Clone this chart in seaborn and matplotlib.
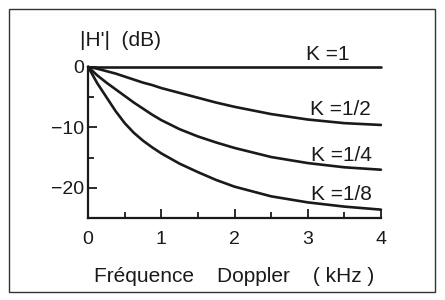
import numpy as np
import pandas as pd
import matplotlib
matplotlib.use("Agg")
import matplotlib.pyplot as plt
from matplotlib.patches import Rectangle
from matplotlib.ticker import MultipleLocator
import seaborn as sns

# values (frequency in kHz, |H'| in dB)
freq = [0, 0.125, 0.25, 0.375, 0.5, 0.625, 0.75, 0.875, 1,
        1.25, 1.5, 1.75, 2, 2.5, 3, 3.5, 4]
k_1 = [0] * len(freq)
k_1_2 = [0, -0.3, -0.7, -1.1, -1.6, -2.1, -2.6, -3.0, -3.5,
         -4.3, -5.1, -5.9, -6.6, -7.8, -8.7, -9.3, -9.6]
k_1_4 = [0, -1.4, -2.6, -3.7, -4.8, -5.9, -6.9, -7.9, -8.8,
         -10.3, -11.5, -12.5, -13.4, -14.9, -15.9, -16.6, -17.0]
k_1_8 = [0, -2.7, -5.0, -7.3, -9.3, -10.9, -12.2, -13.3, -14.3,
         -16.0, -17.4, -18.7, -19.8, -21.4, -22.4, -23.1, -23.6]

labels = ["K =1", "K =1/2", "K =1/4", "K =1/8"]
label_x = [2.97, 3.03, 3.05, 3.05]
label_y = [2.1, -7.0, -14.6, -21.1]

df = pd.concat([
    pd.DataFrame({"f": freq, "dB": v, "K": lab})
    for v, lab in zip([k_1, k_1_2, k_1_4, k_1_8], labels)
])

sns.set_theme(style="ticks")
plt.rcParams["font.family"] = ["Liberation Sans", "DejaVu Sans"]

ink = "#1a1a1a"
fig = plt.figure(figsize=(4.45, 3.0), dpi=100)
ax = fig.add_axes([0.198, 0.273, 0.658, 0.504])

sns.lineplot(data=df, x="f", y="dB", hue="K", palette=[ink] * 4,
             linewidth=1.9, legend=False, ax=ax, clip_on=False)

ax.set_xlim(0, 4)
ax.set_ylim(-25, 0)
ax.xaxis.set_major_locator(MultipleLocator(1))
ax.xaxis.set_minor_locator(MultipleLocator(0.5))
ax.yaxis.set_major_locator(MultipleLocator(10))
ax.yaxis.set_minor_locator(MultipleLocator(5))
ax.tick_params(which="both", direction="in", width=1.3, color=ink,
               labelsize=14, labelcolor=ink)
ax.tick_params(which="major", length=6.5)
ax.tick_params(which="minor", length=4.5)
ax.tick_params(axis="x", pad=9)
ax.tick_params(axis="y", pad=3)
for s in ["left", "bottom"]:
    ax.spines[s].set_linewidth(1.6)
    ax.spines[s].set_color(ink)
sns.despine(ax=ax)

ax.set_xlabel("Fréquence    Doppler    ( kHz )", fontsize=15, labelpad=14,
              color=ink)
ax.set_ylabel("")
ax.text(-0.11, 4.4, "|H'|  (dB)", fontsize=15, ha="left", va="center",
        color=ink, clip_on=False)

for lab, x, y in zip(labels, label_x, label_y):
    ax.text(x, y, lab, fontsize=15, ha="left", va="center",
            color=ink, clip_on=False)

fig.patches.append(Rectangle((9 / 445, 8 / 300), 426 / 445, 283 / 300,
                             transform=fig.transFigure, fill=False,
                             edgecolor="#333333", linewidth=1.0))

fig.savefig("out.png", dpi=100)
